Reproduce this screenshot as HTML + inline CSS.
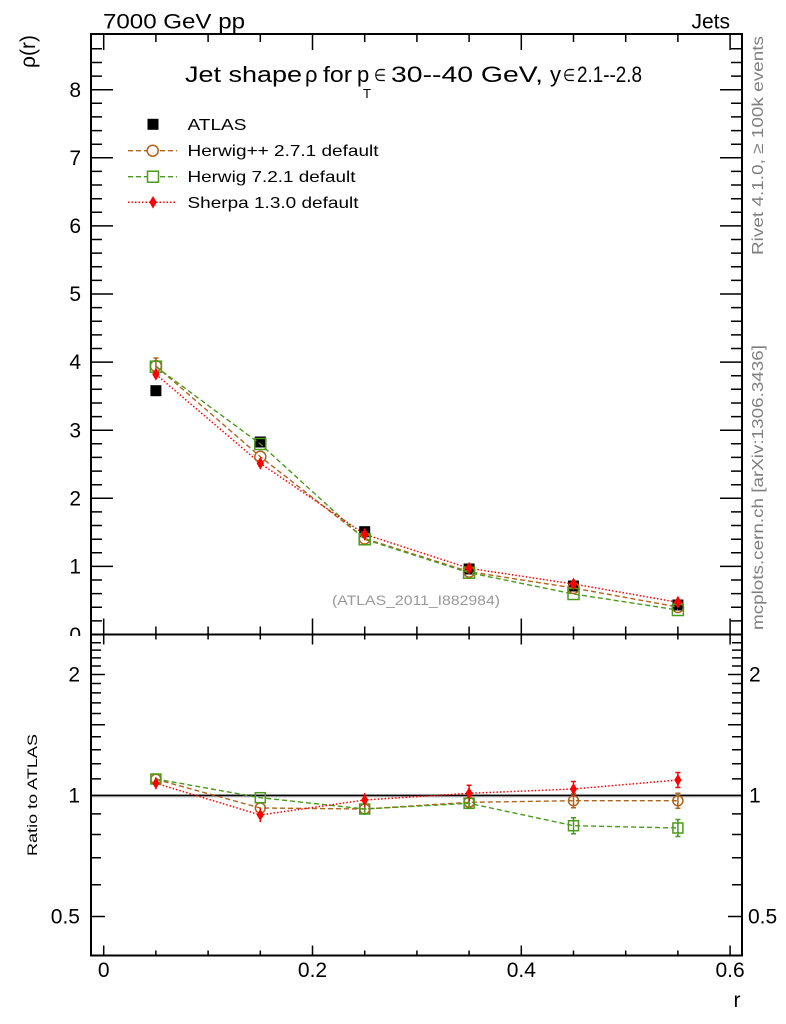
<!DOCTYPE html>
<html><head><meta charset="utf-8"><style>
html,body{margin:0;padding:0;background:#fff;}
svg{display:block;}
text{font-family:"Liberation Sans",Arial,sans-serif;}
</style></head><body>
<svg width="786" height="1024" viewBox="0 0 786 1024" xmlns="http://www.w3.org/2000/svg">
<rect width="786" height="1024" fill="#fff"/>

<!-- header texts -->
<text x="103" y="28.5" font-size="21" textLength="142" lengthAdjust="spacingAndGlyphs">7000 GeV pp</text>
<text x="730" y="28.5" font-size="21" text-anchor="end">Jets</text>
<text transform="translate(35,35) rotate(-90)" font-size="21" text-anchor="end">ρ(r)</text>

<!-- title -->
<g font-size="22">
<text x="185" y="82" textLength="117" lengthAdjust="spacingAndGlyphs">Jet shape</text>
<text x="305" y="82">ρ</text>
<text x="323" y="82" textLength="29" lengthAdjust="spacingAndGlyphs">for</text>
<text x="357" y="82">p</text>
<text x="391" y="82" textLength="152" lengthAdjust="spacingAndGlyphs">30--40 GeV,</text>
<text x="550" y="82">y</text>
<text x="577" y="82" textLength="65" lengthAdjust="spacingAndGlyphs">2.1--2.8</text>
</g>
<g font-size="17" style="font-family:'DejaVu Sans',sans-serif">
<text x="374" y="81" textLength="12" lengthAdjust="spacingAndGlyphs">∈</text>
<text x="563" y="81" textLength="12" lengthAdjust="spacingAndGlyphs">∈</text>
</g>
<text x="363" y="98" font-size="13">T</text>

<!-- legend -->
<rect x="147.5" y="118.8" width="11" height="11" fill="#000"/>
<text x="187.5" y="130" font-size="16" textLength="59" lengthAdjust="spacingAndGlyphs">ATLAS</text>
<line x1="128" y1="150.7" x2="177" y2="150.7" stroke="#b3621b" stroke-width="1.4" stroke-dasharray="5 3"/>
<circle cx="152.7" cy="150.7" r="5.5" fill="#fff" stroke="#b3621b" stroke-width="1.5"/>
<text x="187.5" y="156" font-size="16" textLength="191" lengthAdjust="spacingAndGlyphs">Herwig++ 2.7.1 default</text>
<line x1="128" y1="176.7" x2="177" y2="176.7" stroke="#4a9a1d" stroke-width="1.4" stroke-dasharray="5 3"/>
<rect x="147.5" y="171.2" width="11" height="11" fill="#fff" stroke="#4a9a1d" stroke-width="1.5"/>
<text x="187.5" y="182" font-size="16" textLength="168" lengthAdjust="spacingAndGlyphs">Herwig 7.2.1 default</text>
<line x1="128" y1="202.3" x2="177" y2="202.3" stroke="#f00" stroke-width="1.5" stroke-dasharray="1.5 2"/>
<path d="M153 196 l3.7 6.3 l-3.7 6.3 l-3.7 -6.3z" fill="#f00"/>
<text x="187.5" y="208" font-size="16" textLength="171" lengthAdjust="spacingAndGlyphs">Sherpa 1.3.0 default</text>

<!-- right side texts -->
<text transform="translate(763,255) rotate(-90)" font-size="16" fill="#808080" textLength="219" lengthAdjust="spacingAndGlyphs">Rivet 4.1.0, ≥ 100k events</text>
<text transform="translate(763,630) rotate(-90)" font-size="16" fill="#808080" textLength="285" lengthAdjust="spacingAndGlyphs">mcplots.cern.ch [arXiv:1306.3436]</text>

<text x="332" y="605" font-size="14" fill="#999" textLength="168" lengthAdjust="spacingAndGlyphs">(ATLAS_2011_I882984)</text>

<!-- main y labels -->
<g font-size="21" text-anchor="end">
<text x="81" y="97">8</text>
<text x="81" y="165">7</text>
<text x="81" y="233">6</text>
<text x="81" y="301">5</text>
<text x="81" y="369">4</text>
<text x="81" y="437.5">3</text>
<text x="81" y="505.5">2</text>
<text x="81" y="573.5">1</text>
<text x="81" y="642">0</text>
</g>
<rect x="0" y="636" width="90" height="30" fill="#fff"/>

<g stroke="#000" stroke-width="1.5" fill="none">
<path d="M91 620.9h11M91 607.3h11M91 593.6h11M91 580h11M91 552.8h11M91 539.2h11M91 525.5h11M91 511.9h11M91 484.7h11M91 471.1h11M91 457.4h11M91 443.8h11M91 416.6h11M91 403h11M91 389.3h11M91 375.7h11M91 348.5h11M91 334.9h11M91 321.2h11M91 307.6h11M91 280.4h11M91 266.8h11M91 253.1h11M91 239.5h11M91 212.3h11M91 198.7h11M91 185h11M91 171.4h11M91 144.2h11M91 130.6h11M91 116.9h11M91 103.3h11M91 76.1h11M91 62.5h11M91 48.8h11M91 566.4h22M91 498.3h22M91 430.2h22M91 362.1h22M91 294h22M91 225.9h22M91 157.8h22M91 89.7h22"/>
<path transform="translate(833,0) scale(-1,1)" d="M91 620.9h11M91 607.3h11M91 593.6h11M91 580h11M91 552.8h11M91 539.2h11M91 525.5h11M91 511.9h11M91 484.7h11M91 471.1h11M91 457.4h11M91 443.8h11M91 416.6h11M91 403h11M91 389.3h11M91 375.7h11M91 348.5h11M91 334.9h11M91 321.2h11M91 307.6h11M91 280.4h11M91 266.8h11M91 253.1h11M91 239.5h11M91 212.3h11M91 198.7h11M91 185h11M91 171.4h11M91 144.2h11M91 130.6h11M91 116.9h11M91 103.3h11M91 76.1h11M91 62.5h11M91 48.8h11M91 566.4h22M91 498.3h22M91 430.2h22M91 362.1h22M91 294h22M91 225.9h22M91 157.8h22M91 89.7h22"/>
<path d="M103.7 34v16M155.9 34v8M208.1 34v8M260.3 34v8M312.5 34v16M364.7 34v8M416.9 34v8M469.1 34v8M521.3 34v16M573.5 34v8M625.7 34v8M677.9 34v8M730.1 34v16"/>
<path d="M103.7 634.5v-16M155.9 634.5v-8M208.1 634.5v-8M260.3 634.5v-8M312.5 634.5v-16M364.7 634.5v-8M416.9 634.5v-8M469.1 634.5v-8M521.3 634.5v-16M573.5 634.5v-8M625.7 634.5v-8M677.9 634.5v-8M730.1 634.5v-16"/>
<path d="M103.7 634.5v10M155.9 634.5v5M208.1 634.5v5M260.3 634.5v5M312.5 634.5v10M364.7 634.5v5M416.9 634.5v5M469.1 634.5v5M521.3 634.5v10M573.5 634.5v5M625.7 634.5v5M677.9 634.5v5M730.1 634.5v10"/>
<path d="M103.7 955.5v-10M155.9 955.5v-5M208.1 955.5v-5M260.3 955.5v-5M312.5 955.5v-10M364.7 955.5v-5M416.9 955.5v-5M469.1 955.5v-5M521.3 955.5v-10M573.5 955.5v-5M625.7 955.5v-5M677.9 955.5v-5M730.1 955.5v-10"/>
<path d="M91 642.7h10M91 650.1h10M91 657.9h10M91 666h10M91 683.5h10M91 692.9h10M91 702.9h10M91 713.5h10M91 736.8h10M91 749.7h10M91 763.7h10M91 778.9h10M91 813.9h10M91 834.5h10M91 857.8h10M91 884.7h10M91 674.5h14M91 724.7h14M91 916.5h14"/>
<path transform="translate(833,0) scale(-1,1)" d="M91 642.7h10M91 650.1h10M91 657.9h10M91 666h10M91 683.5h10M91 692.9h10M91 702.9h10M91 713.5h10M91 736.8h10M91 749.7h10M91 763.7h10M91 778.9h10M91 813.9h10M91 834.5h10M91 857.8h10M91 884.7h10M91 674.5h14M91 724.7h14M91 916.5h14"/>
</g>

<!-- ratio labels -->
<g font-size="21">
<text x="80" y="681.5" text-anchor="end">2</text>
<text x="80" y="802.5" text-anchor="end">1</text>
<text x="80" y="923.5" text-anchor="end">0.5</text>
<text x="749" y="681.5">2</text>
<text x="749" y="802.5">1</text>
<text x="748" y="923.5">0.5</text>
</g>
<text transform="translate(37,795) rotate(-90)" font-size="14" text-anchor="middle" textLength="122" lengthAdjust="spacingAndGlyphs">Ratio to ATLAS</text>

<!-- x labels -->
<g font-size="21" text-anchor="middle">
<text x="103.7" y="977">0</text>
<text x="312.5" y="977">0.2</text>
<text x="521.3" y="977">0.4</text>
<text x="730.1" y="977">0.6</text>
<text x="737" y="1007">r</text>
</g>

<!-- main data -->
<g fill="#000">
<rect x="150.4" y="385.2" width="11" height="11"/>
<rect x="254.8" y="436.5" width="11" height="11"/>
<rect x="359.2" y="526.2" width="11" height="11"/>
<rect x="463.6" y="563.5" width="11" height="11"/>
<rect x="568" y="580.5" width="11" height="11"/>
<rect x="672.4" y="599.5" width="11" height="11"/>
</g>
<polyline points="155.9,366 260.3,456.7 364.7,538.5 469.1,571.7 573.5,588 677.9,607" fill="none" stroke="#b3621b" stroke-width="1.4" stroke-dasharray="5 3"/>
<polyline points="155.9,366.7 260.3,444 364.7,539.3 469.1,572.7 573.5,594 677.9,610" fill="none" stroke="#4a9a1d" stroke-width="1.4" stroke-dasharray="5 3"/>
<polyline points="155.9,374.3 260.3,463.3 364.7,534.3 469.1,568.3 573.5,584 677.9,602.3" fill="none" stroke="#f00" stroke-width="1.5" stroke-dasharray="1.5 2"/>
<g stroke="#b3621b" stroke-width="1.5" fill="none">
<path d="M155.9 358v16M153.4 358h5"/>
<circle cx="155.9" cy="366" r="5.5"/>
<circle cx="260.3" cy="456.7" r="5.5"/>
<circle cx="364.7" cy="538.5" r="5.5"/>
<circle cx="469.1" cy="571.7" r="5.5"/>
<circle cx="573.5" cy="588" r="5.5"/>
<circle cx="677.9" cy="607" r="5.5"/>
</g>
<g stroke="#4a9a1d" stroke-width="1.5" fill="none">
<rect x="150.4" y="361.2" width="11" height="11"/>
<rect x="254.8" y="438.5" width="11" height="11"/>
<rect x="359.2" y="533.8" width="11" height="11"/>
<rect x="463.6" y="567.2" width="11" height="11"/>
<rect x="568" y="588.5" width="11" height="11"/>
<rect x="672.4" y="604.5" width="11" height="11"/>
</g>
<g fill="#f00">
<path d="M155.9 367.8l3.7 6.5l-3.7 6.5l-3.7-6.5z"/>
<path d="M260.3 456.8l3.7 6.5l-3.7 6.5l-3.7-6.5z"/>
<path d="M364.7 527.8l3.7 6.5l-3.7 6.5l-3.7-6.5z"/>
<path d="M469.1 561.8l3.7 6.5l-3.7 6.5l-3.7-6.5z"/>
<path d="M573.5 577.5l3.7 6.5l-3.7 6.5l-3.7-6.5z"/>
<path d="M677.9 595.8l3.7 6.5l-3.7 6.5l-3.7-6.5z"/>
</g>

<!-- ratio data -->
<rect x="91" y="794" width="651" height="3.5" fill="#c8c8c8"/>
<line x1="91" y1="795.5" x2="742" y2="795.5" stroke="#000" stroke-width="1.5"/>
<polyline points="155.9,779.3 260.3,808 364.7,809 469.1,802.3 573.5,800.7 677.9,800.7" fill="none" stroke="#b3621b" stroke-width="1.4" stroke-dasharray="5 3"/>
<polyline points="155.9,779 260.3,797.7 364.7,809 469.1,803.3 573.5,825.7 677.9,828" fill="none" stroke="#4a9a1d" stroke-width="1.4" stroke-dasharray="5 3"/>
<polyline points="155.9,783.3 260.3,815 364.7,800 469.1,793.3 573.5,789 677.9,780" fill="none" stroke="#f00" stroke-width="1.5" stroke-dasharray="1.5 2"/>
<g stroke="#b3621b" stroke-width="1.5" fill="none">
<path d="M573.5 793.7v14M571 793.7h5M571 807.7h5M677.9 793.2v15M675.4 793.2h5M675.4 808.2h5M469.1 797.3v10"/>
<circle cx="155.9" cy="779.3" r="5"/>
<circle cx="260.3" cy="808" r="5"/>
<circle cx="364.7" cy="809" r="5"/>
<circle cx="469.1" cy="802.3" r="5"/>
<circle cx="573.5" cy="800.7" r="5"/>
<circle cx="677.9" cy="800.7" r="5"/>
</g>
<g stroke="#4a9a1d" stroke-width="1.5" fill="none">
<path d="M573.5 817.7v16M571 817.7h5M571 833.7h5M677.9 819.5v17M675.4 819.5h5M675.4 836.5h5M364.7 803v12M469.1 797.3v12"/>
<rect x="150.9" y="774" width="10" height="10"/>
<rect x="255.3" y="792.7" width="10" height="10"/>
<rect x="359.7" y="804" width="10" height="10"/>
<rect x="464.1" y="798.3" width="10" height="10"/>
<rect x="568.5" y="820.7" width="10" height="10"/>
<rect x="672.9" y="823" width="10" height="10"/>
</g>
<g stroke="#f00" stroke-width="1.5" fill="none">
<path d="M155.9 777.3v12M260.3 808v14M364.7 793v14M469.1 785.3v16M573.5 781.5v15M677.9 772.5v15M675.4 772.5h5M675.4 787.5h5M571 781.5h5M466.6 785.3h5"/>
</g>
<g fill="#f00">
<path d="M155.9 777.3l3.6 6l-3.6 6l-3.6-6z"/>
<path d="M260.3 809l3.6 6l-3.6 6l-3.6-6z"/>
<path d="M364.7 794l3.6 6l-3.6 6l-3.6-6z"/>
<path d="M469.1 787.3l3.6 6l-3.6 6l-3.6-6z"/>
<path d="M573.5 783l3.6 6l-3.6 6l-3.6-6z"/>
<path d="M677.9 774l3.6 6l-3.6 6l-3.6-6z"/>
</g>

<!-- frames -->
<rect x="91" y="34" width="651" height="600.5" fill="none" stroke="#000" stroke-width="2"/>
<rect x="91" y="634.5" width="651" height="321" fill="none" stroke="#000" stroke-width="2"/>
</svg>
</body></html>
